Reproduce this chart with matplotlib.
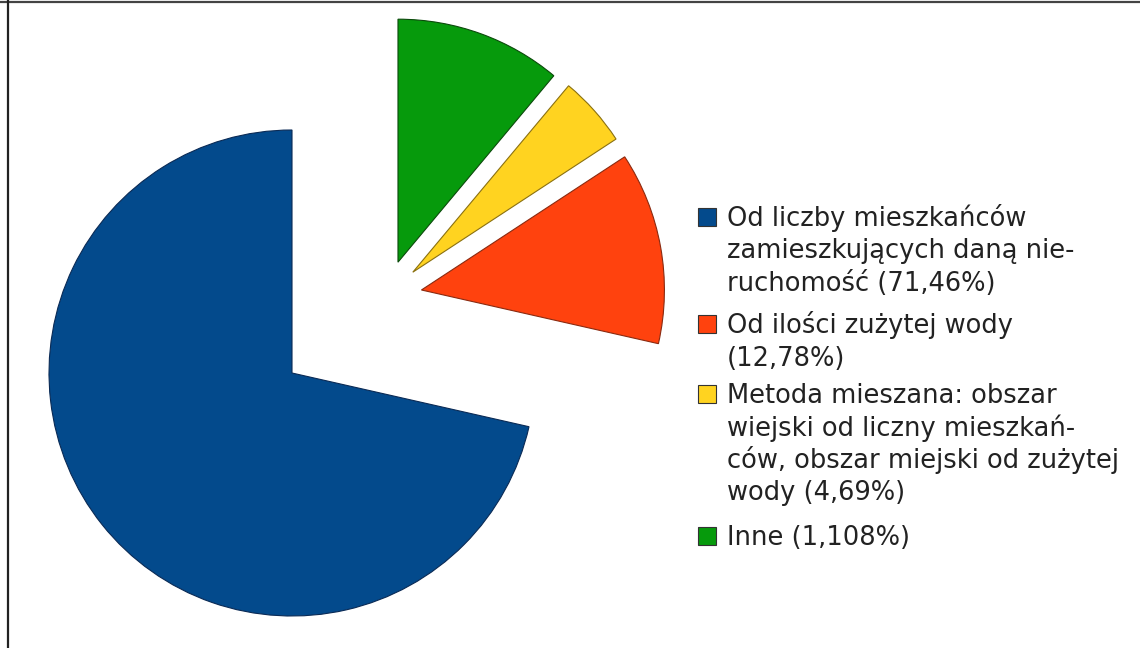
import matplotlib
matplotlib.use("Agg")
import matplotlib.pyplot as plt
from matplotlib.patches import Rectangle
from matplotlib.lines import Line2D

labels = ["Od liczby mieszkańców\nzamieszkujących daną nie-\nruchomość (71,46%)",
          "Od ilości zużytej wody\n(12,78%)",
          "Metoda mieszana: obszar\nwiejski od liczny mieszkań-\nców, obszar miejski od zużytej\nwody (4,69%)",
          "Inne (1,108%)"]
values = [71.46, 12.78, 4.69, 11.08]
colors = ["#034a8c", "#ff420e", "#ffd320", "#069a0c"]
edges = ["#0a2a55", "#8a2a10", "#8a7010", "#0b4a0b"]

fig = plt.figure(figsize=(11.4, 6.48), dpi=100)
ax = fig.add_axes([0, 0, 1, 1])

# big slice stays at the origin
w1, _ = ax.pie(values, startangle=90, counterclock=True, colors=colors,
               radius=1.0, center=(0, 0),
               wedgeprops=dict(linewidth=0.8))
for k, w in enumerate(w1):
    w.set_edgecolor(edges[k])
    if k > 0:
        w.set_visible(False)

# the three small slices are pulled out as a group
w2, _ = ax.pie(values, startangle=90, counterclock=True, colors=colors,
               radius=1.0, center=(0.385, 0.315), explode=[0, 0.15, 0.15, 0.15],
               wedgeprops=dict(linewidth=0.8))
for k, w in enumerate(w2):
    w.set_edgecolor(edges[k])
    if k == 0:
        w.set_visible(False)

r_px = 243.0
cx, cy = 292.0, 373.0
ax.set_xlim(-cx / r_px, (1140 - cx) / r_px)
ax.set_ylim((cy - 648) / r_px, cy / r_px)
ax.set_aspect("auto")
ax.axis("off")

# legend, drawn by hand so the box sits beside the first line
first_base = [226, 333, 403, 545]
line_step = 32.5
for k, lab in enumerate(labels):
    yb = first_base[k]
    fig.patches.append(Rectangle((698 / 1140, 1 - yb / 648), 18 / 1140, 18 / 648,
                                 transform=fig.transFigure, facecolor=colors[k],
                                 edgecolor="#333333", linewidth=0.8))
    for j, line in enumerate(lab.split("\n")):
        fig.text(727 / 1140, 1 - (yb + j * line_step) / 648, line,
                 fontsize=18.5, family="DejaVu Sans", color="#222222",
                 va="baseline", ha="left")

# frame lines on top and left
fig.lines.append(Line2D([0, 1], [1 - 1.5 / 648, 1 - 1.5 / 648], transform=fig.transFigure,
                        color="#444444", linewidth=1.6))
fig.lines.append(Line2D([8 / 1140, 8 / 1140], [0, 1], transform=fig.transFigure,
                        color="#222222", linewidth=1.6))

fig.savefig("out.png", dpi=100, facecolor="white")
